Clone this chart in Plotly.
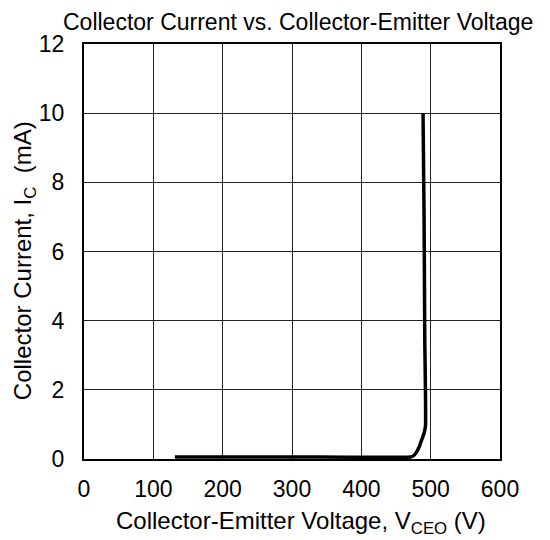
import plotly.graph_objects as go

vce = [131, 300, 471, 475, 479, 483, 487, 490.5, 492.5, 491.5, 490.5, 489]
ic = [0.06, 0.06, 0.06, 0.09, 0.18, 0.33, 0.55, 0.75, 0.95, 3.5, 7.0, 10.0]

x_ticks = [0, 100, 200, 300, 400, 500, 600]
y_ticks = [0, 2, 4, 6, 8, 10, 12]

title_text = "Collector Current vs. Collector-Emitter Voltage"
x_title = "Collector-Emitter Voltage, V<sub>CEO</sub> (V)"
y_title = "Collector Current, I<sub>C</sub>  (mA)"

font = "Liberation Sans, Arial, sans-serif"

fig = go.Figure()
fig.add_trace(go.Scatter(x=vce, y=ic, mode="lines",
                         line=dict(color="black", width=3.5, shape="spline", smoothing=0.5),
                         showlegend=False))

# page body adds an 8px offset, so the figure is 542x532
fig.update_layout(
    width=542, height=532,
    margin=dict(l=76, r=50, t=36, b=81, autoexpand=False),
    paper_bgcolor="white", plot_bgcolor="white",
    font=dict(family=font, color="black"),
)
fig.add_annotation(text=title_text, xref="paper", yref="paper", x=0.515, y=1.054,
                   xanchor="center", yanchor="middle", showarrow=False, borderpad=0,
                   font=dict(size=23, family=font, color="black"))
fig.add_annotation(text=x_title, xref="paper", yref="paper", x=0.522, y=-0.154,
                   xanchor="center", yanchor="middle", showarrow=False,
                   font=dict(size=24, family=font, color="black"))
fig.add_annotation(text=y_title, xref="paper", yref="paper", x=-0.144, y=0.477,
                   xanchor="center", yanchor="middle", showarrow=False, textangle=-90,
                   font=dict(size=24, family=font, color="black"))

fig.update_xaxes(range=[0, 600], tickvals=x_ticks, ticks="", showgrid=True,
                 gridcolor="#222", gridwidth=1, zeroline=False, automargin=False,
                 showline=True, linecolor="black", linewidth=2, mirror=True,
                 tickfont=dict(size=23), ticklabelstandoff=8)
fig.update_yaxes(range=[0, 12], tickvals=y_ticks, ticks="", showgrid=True,
                 gridcolor="#222", gridwidth=1, zeroline=False, automargin=False,
                 showline=True, linecolor="black", linewidth=2, mirror=True,
                 tickfont=dict(size=23), ticklabelstandoff=13)

fig.write_html("out.html")
